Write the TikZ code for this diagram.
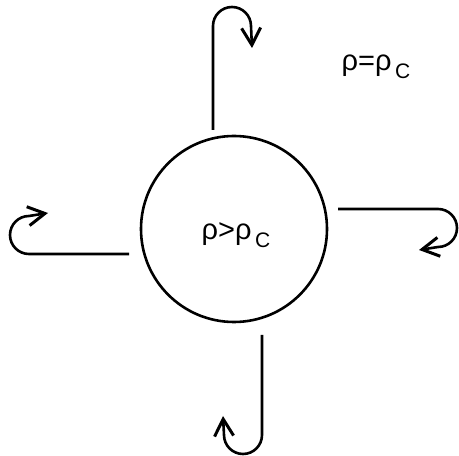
\documentclass[tikz,border=0pt]{standalone}
\usepackage{fontspec}
\setmainfont{Liberation Sans}
\usetikzlibrary{positioning,arrows.meta}

\newcommand{\subC}{\raisebox{-0.5ex}{\fontsize{21}{22}\selectfont\,C}}

\begin{document}
\begin{tikzpicture}[
    x=1pt, y=1pt,
    core/.style={
        draw,
        circle,
        line width=2.6pt,
        minimum size=186pt,
        inner sep=0pt
    },
    density/.style={
        font=\fontsize{29}{32}\selectfont,
        inner sep=0pt
    },
    flow/.style={
        line width=2.6pt,
        -{Straight Barb[length=17pt,width=19pt,line width=3pt]}
    }
]
\useasboundingbox (0,0) rectangle (459,456);

\node[core] (ball) at (234,227) {};
\node[density] (inside) at (236,221) {ρ>ρ\subC};
\node[density] (outside) at (376,389) {ρ=ρ\subC};

\coordinate (topstart) at (213,326);
\coordinate (topend) at (252,408);
\coordinate (rightstart) at (338,247);
\coordinate (rightend) at (419,206);
\coordinate (bottomstart) at (262,121);
\coordinate (bottomend) at (223,40);
\coordinate (leftstart) at (129,202);
\coordinate (leftend) at (48,243);

\draw[flow] (topstart) -- (213,430) arc[start angle=180,end angle=0,radius=19] -- (topend);
\draw[flow] (rightstart) -- (438,247) arc[start angle=90,end angle=-90,radius=19] -- (rightend);
\draw[flow] (bottomstart) -- (262,21) arc[start angle=0,end angle=-180,radius=19] -- (bottomend);
\draw[flow] (leftstart) -- (29,202) arc[start angle=-90,end angle=-270,radius=19] -- (leftend);

\end{tikzpicture}
\end{document}
